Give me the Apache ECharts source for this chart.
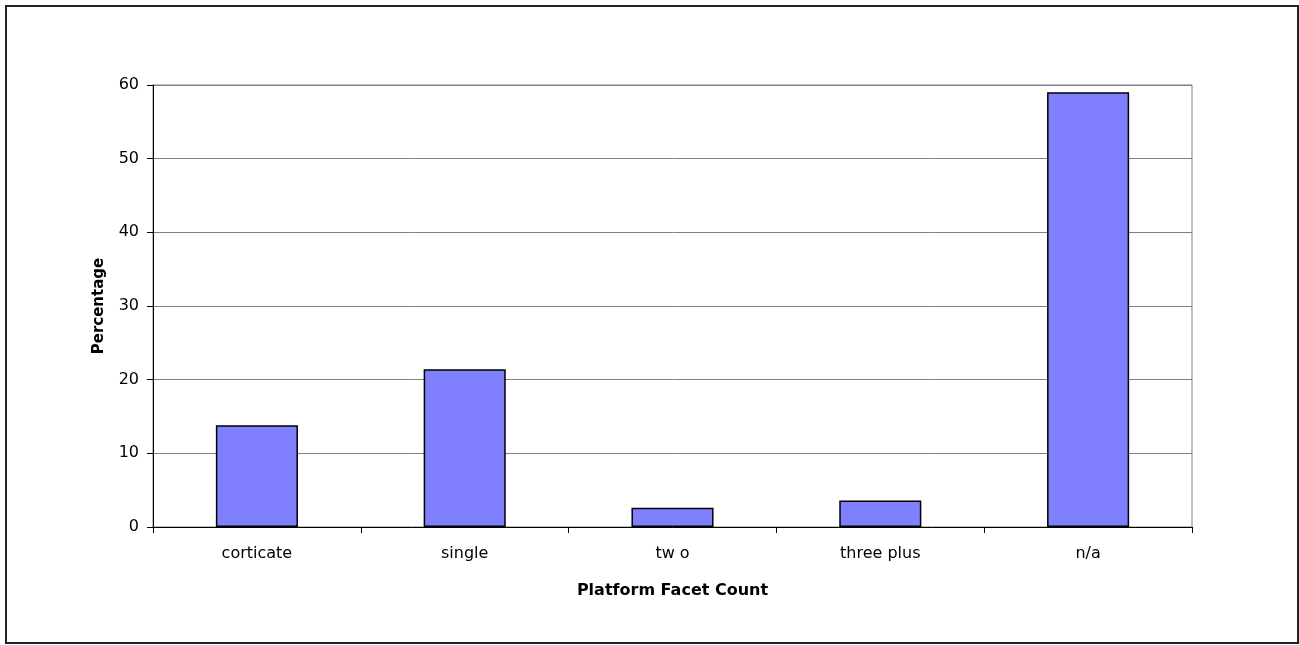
<!DOCTYPE html>
<html>
<head>
<meta charset="utf-8">
<script src="https://cdn.jsdelivr.net/npm/echarts@6/dist/echarts.min.js"></script>
<style>
  html, body { margin: 0; padding: 0; background: #fff; }
  #chart { width: 1299px; height: 645px; }
</style>
</head>
<body>
<div id="chart"></div>
<script>
var categories = ['corticate', 'single', 'tw o', 'three plus', 'n/a'];
var percentages = [13.8, 21.4, 2.6, 3.6, 59.0];
var yTicks = { min: 0, max: 60, step: 10 };

var chart = echarts.init(document.getElementById('chart'));
var font = 'DejaVu Sans, Liberation Sans, Arial, sans-serif';

var option = {
    animation: false,
    backgroundColor: '#fff',
    graphic: [{
        type: 'rect',
        shape: { x: 6, y: 6, width: 1292, height: 637 },
        style: { fill: 'none', stroke: '#222', lineWidth: 2 }
    }],
    grid: {
        left: 153, right: 107, top: 85, bottom: 118,
        show: true, borderColor: '#808080', borderWidth: 1
    },
    xAxis: {
        type: 'category',
        data: categories,
        name: 'Platform Facet Count',
        nameLocation: 'middle',
        nameGap: 56,
        nameTextStyle: { fontFamily: font, fontSize: 16, fontWeight: 'bold', color: '#000' },
        axisLine: { lineStyle: { color: '#000', width: 1 } },
        axisTick: { show: true, alignWithLabel: false, length: 6, lineStyle: { color: '#000' } },
        axisLabel: { fontFamily: font, fontSize: 16, color: '#000', margin: 19 },
        splitLine: { show: false }
    },
    yAxis: {
        type: 'value',
        min: yTicks.min, max: yTicks.max, interval: yTicks.step,
        name: 'Percentage',
        nameLocation: 'middle',
        nameGap: 46,
        nameTextStyle: { fontFamily: font, fontSize: 15, fontWeight: 'bold', color: '#000' },
        axisLine: { show: true, lineStyle: { color: '#000', width: 1 } },
        axisTick: { show: true, length: 6, lineStyle: { color: '#000' } },
        axisLabel: { fontFamily: font, fontSize: 16, color: '#000', margin: 14 },
        splitLine: { show: true, lineStyle: { color: '#808080', width: 1 } }
    },
    series: [{
        type: 'bar',
        data: percentages,
        barWidth: '39.5%',
        itemStyle: { color: '#8080ff', borderColor: '#000', borderWidth: 1.5 }
    }]
};
chart.setOption(option);
</script>
</body>
</html>
